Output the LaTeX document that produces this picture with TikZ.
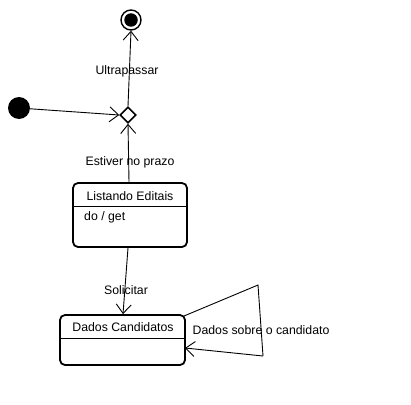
\documentclass[tikz,border=0pt]{standalone}
\usepackage{fontspec}
\setmainfont{Liberation Sans}
\usetikzlibrary{shapes.geometric,arrows.meta}
\begin{document}
\begin{tikzpicture}[x=1pt,y=-1pt,
  lbl/.style={font=\fontsize{12.3}{14}\selectfont, inner sep=0pt},
  conn/.style={line width=0.9pt, -{Straight Barb[length=9pt,width=15pt,line width=0.9pt]}},
  statebox/.style={draw, line width=1.8pt, rounded corners=5pt, inner sep=0pt},
  sep/.style={line width=1pt}]
\useasboundingbox (0,0) rectangle (411,404);
% final state
\node[circle, draw, line width=1.4pt, minimum size=20pt, inner sep=0pt] (fin) at (131,20) {};
\node[circle, fill=black, minimum size=13.5pt, inner sep=0pt] (finin) at (131,20) {};
% initial state
\node[circle, fill=black, minimum size=22pt, inner sep=0pt] (init) at (19,108) {};
% decision
\node[diamond, draw, line width=1.6pt, minimum width=16pt, minimum height=16pt, inner sep=0pt] (dec) at (128,115) {};
% Listando Editais
\node[statebox, minimum width=114pt, minimum height=64pt] (le) at (130,215) {};
\draw[sep] (le.west |- 0,206) -- (le.east |- 0,206);
\node[lbl] (let) at (130,196) {Listando Editais};
\node[lbl, anchor=west] (led) at (84,217) {do / get};
% Dados Candidatos
\node[statebox, minimum width=125pt, minimum height=50pt] (dc) at (122.5,340) {};
\draw[sep] (dc.west |- 0,338) -- (dc.east |- 0,338);
\node[lbl] (dct) at (123,327) {Dados Candidatos};
% connectors
\draw[conn] (init) -- (dec.west);
\draw[conn] (dec.north) -- (fin.south);
\draw[conn] (le.north -| 129,0) -- (dec.south);
\draw[conn] (le.south -| 128,0) -- (dc.north -| 123,0);
\coordinate (l1) at (184,316);
\coordinate (l2) at (258,285);
\coordinate (l3) at (263,356);
\coordinate (l4) at (185,348);
\draw[line width=0.9pt] (l1) -- (l2) -- (l3);
\draw[conn] (l3) -- (l4);
% labels
\node[lbl] (u) at (127,71) {Ultrapassar};
\node[lbl] (e) at (130,162) {Estiver no prazo};
\node[lbl] (s) at (126,290) {Solicitar};
\node[lbl] (d) at (261,330) {Dados sobre o candidato};
\end{tikzpicture}
\end{document}
